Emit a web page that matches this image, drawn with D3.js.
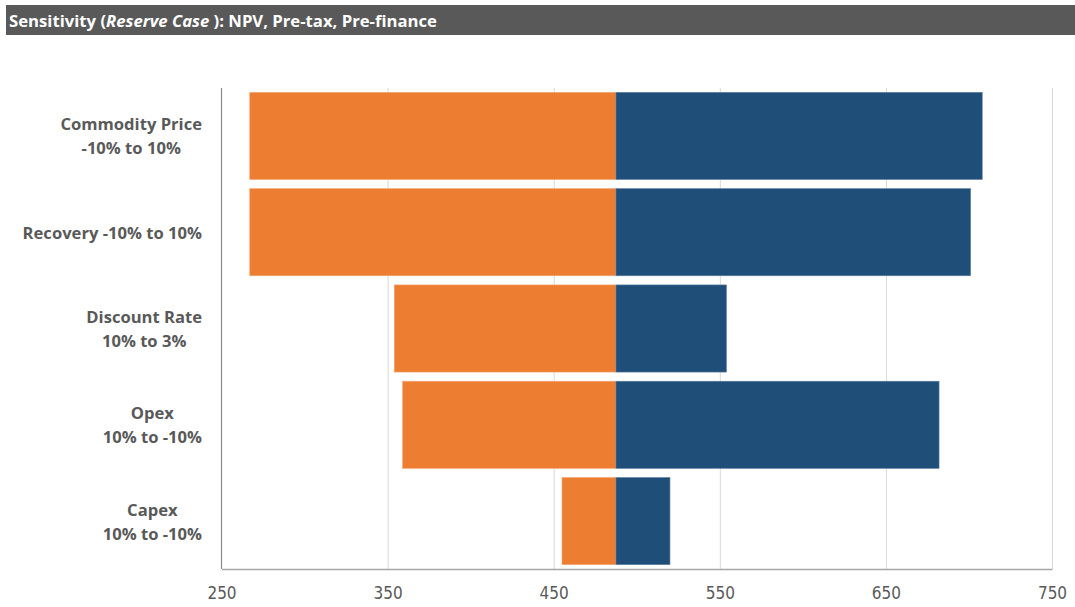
<!DOCTYPE html>
<html><head><meta charset="utf-8">
<script src="https://cdn.jsdelivr.net/npm/d3@7"></script>
<style>
body{margin:0;background:#fff;}
svg{display:block;}
</style></head>
<body>
<svg id="chart" width="1075" height="607"></svg>
<script>
const categories = [["Commodity Price","-10% to 10%"],["Recovery -10% to 10%"],["Discount Rate","10% to 3%"],["Opex","10% to -10%"],["Capex","10% to -10%"]];
const baseValue = 487.5;
const lowValues = [267, 267, 354, 359, 455];
const highValues = [708, 701, 554, 682, 520];
const tickValues = [250, 350, 450, 550, 650, 750];

const svg = d3.select("#chart");
const x = d3.scaleLinear().domain([250,750]).range([221.5,1052]);
const keys = categories.map((c,i)=>i);
const y = d3.scaleBand().domain(keys).range([88,569]).paddingInner(0.095).paddingOuter(0.045);

// title bar
svg.append("rect").attr("x",6).attr("y",5).attr("width",1069).attr("height",30).attr("fill","#595959");
const t = svg.append("text").attr("x",9).attr("y",27).attr("fill","#fff")
  .style("font-family","'Open Sans', Lato, sans-serif").style("font-weight","bold").style("font-size","16.7px");
t.append("tspan").text("Sensitivity (");
t.append("tspan").style("font-style","italic").text("Reserve Case ");
t.append("tspan").text("): NPV, Pre-tax, Pre-finance");

// gridlines
svg.append("g").selectAll("line").data(tickValues.slice(1)).join("line")
  .attr("x1",d=>x(d)+0.5).attr("x2",d=>x(d)+0.5).attr("y1",88).attr("y2",569)
  .attr("stroke","#d9d9d9").attr("stroke-width",1);

// bars low (orange)
svg.append("g").selectAll("rect").data(keys).join("rect")
  .attr("x",i=>x(Math.min(lowValues[i],baseValue)))
  .attr("width",i=>Math.abs(x(baseValue)-x(lowValues[i])))
  .attr("y",i=>y(i)).attr("height",y.bandwidth())
  .attr("fill","#ED7D31").attr("stroke","#F4A774").attr("stroke-width",0.6);
// bars high (blue)
svg.append("g").selectAll("rect").data(keys).join("rect")
  .attr("x",i=>x(baseValue))
  .attr("width",i=>x(highValues[i])-x(baseValue))
  .attr("y",i=>y(i)).attr("height",y.bandwidth())
  .attr("fill","#1F4E79").attr("stroke","#5F7FA0").attr("stroke-width",0.6);

// x axis
const xAxis = svg.append("g").attr("transform","translate(0,569)")
  .call(d3.axisBottom(x).tickValues(tickValues).tickSize(0).tickPadding(0).tickFormat(d3.format("d")));
xAxis.select(".domain").attr("stroke","#a6a6a6").attr("stroke-width",1.5);
xAxis.selectAll("text").attr("fill","#595959").attr("y",30).attr("dy",null)
  .style("font-family","'Liberation Sans Narrow','DejaVu Sans Condensed',sans-serif")
  .style("font-weight","normal").style("font-size","17px");

// y axis line
svg.append("line").attr("x1",221.5).attr("x2",221.5).attr("y1",88).attr("y2",569)
  .attr("stroke","#8c8c8c").attr("stroke-width",1.2);

// category labels: block right-aligned, lines centered within block
const labelRight = 202;
const lab = svg.append("g").selectAll("text").data(keys).join("text")
  .attr("text-anchor","middle").attr("fill","#595959")
  .style("font-family","'Open Sans', Lato, sans-serif").style("font-weight","bold").style("font-size","16.6px");
lab.each(function(i){
  const lines = categories[i];
  const cy = y(i)+y.bandwidth()/2;
  const lh = 24;
  const el = d3.select(this);
  const spans = lines.map((s,k)=>el.append("tspan").attr("y",cy + (k-(lines.length-1)/2)*lh + 6.5).text(s));
  const w = d3.max(spans, sp=>sp.node().getComputedTextLength());
  spans.forEach(sp=>sp.attr("x", labelRight - w/2));
});
</script>
</body></html>
